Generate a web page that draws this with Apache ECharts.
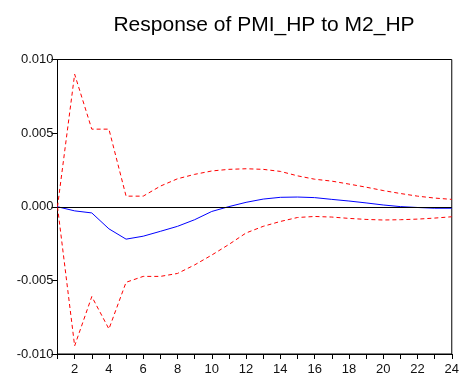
<!DOCTYPE html>
<html>
<head>
<meta charset="utf-8">
<script src="https://cdn.jsdelivr.net/npm/echarts@6/dist/echarts.min.js"></script>
<style>
  html, body { margin: 0; padding: 0; background: #fff; }
  #chart { width: 462px; height: 376px; }
</style>
</head>
<body>
<div id="chart"></div>
<script>
// impulse response, periods 1..24
var periods = [1, 2, 3, 4, 5, 6, 7, 8, 9, 10, 11, 12, 13, 14, 15, 16, 17, 18, 19, 20, 21, 22, 23, 24];
var response = [0, -0.00028, -0.00042, -0.0015, -0.0022, -0.0020, -0.00167, -0.00133, -0.00088, -0.00032, 0.00001, 0.0003,
    0.00052, 0.00064, 0.00066, 0.00062, 0.0005, 0.00039, 0.00026, 0.00012, 0.00001, -0.00005, -0.0001, -0.0001];
var upper = [0, 0.0090, 0.00527, 0.00527, 0.00072, 0.00072, 0.0014, 0.0019, 0.0022, 0.00243, 0.00254, 0.00258,
    0.00254, 0.0024, 0.0021, 0.00187, 0.00174, 0.00154, 0.00133, 0.0011, 0.0009, 0.00072, 0.00059, 0.0005];
var lower = [0, -0.00945, -0.0061, -0.0083, -0.00513, -0.00473, -0.00473, -0.00453, -0.00395, -0.00328, -0.00256, -0.00178,
    -0.00133, -0.001, -0.00073, -0.00066, -0.0007, -0.00079, -0.00086, -0.0009, -0.00088, -0.00084, -0.00077, -0.00068];

function pairs(vals) {
    return periods.map(function (p, i) { return [p, vals[i]]; });
}

var font = "'Liberation Sans', Arial, sans-serif";
var chart = echarts.init(document.getElementById("chart"));

chart.setOption({
    animation: false,
    title: {
        text: "Response of PMI_HP to M2_HP",
        left: 259,
        top: 10,
        textAlign: "center",
        textStyle: { fontFamily: font, fontSize: 21, fontWeight: "normal", color: "#000" }
    },
    grid: {
        left: 57.5, right: 8, top: 59.5, bottom: 20,
        show: true, borderColor: "#000", borderWidth: 1
    },
    xAxis: {
        type: "value", min: 1, max: 24, interval: 1,
        axisLine: { onZero: false, lineStyle: { color: "#000" } },
        axisTick: { length: 5, lineStyle: { color: "#000" } },
        axisLabel: {
            margin: 9, fontFamily: font, fontSize: 13, color: "#111",
            formatter: function (v) { return v % 2 === 0 ? String(v) : ""; }
        },
        splitLine: { show: false }
    },
    yAxis: {
        type: "value", min: -0.01, max: 0.01, interval: 0.005,
        axisLine: { show: true, onZero: false, lineStyle: { color: "#000" } },
        axisTick: { show: true, length: 6, lineStyle: { color: "#000" } },
        axisLabel: {
            margin: 4, fontFamily: font, fontSize: 13, color: "#111",
            formatter: function (v) { return v.toFixed(3); }
        },
        splitLine: { show: false }
    },
    series: [
        {
            type: "line", data: pairs(upper), symbol: "none",
            lineStyle: { color: "#ff0000", width: 1, type: [4, 3] }
        },
        {
            type: "line", data: pairs(lower), symbol: "none",
            lineStyle: { color: "#ff0000", width: 1, type: [4, 3] }
        },
        {
            type: "line", data: pairs(response), symbol: "none",
            lineStyle: { color: "#0000ff", width: 1 },
            markLine: {
                silent: true, symbol: "none", label: { show: false },
                lineStyle: { color: "#000", width: 1, type: "solid" },
                data: [{ yAxis: 0 }]
            },
            z: 3
        }
    ]
});
</script>
</body>
</html>
